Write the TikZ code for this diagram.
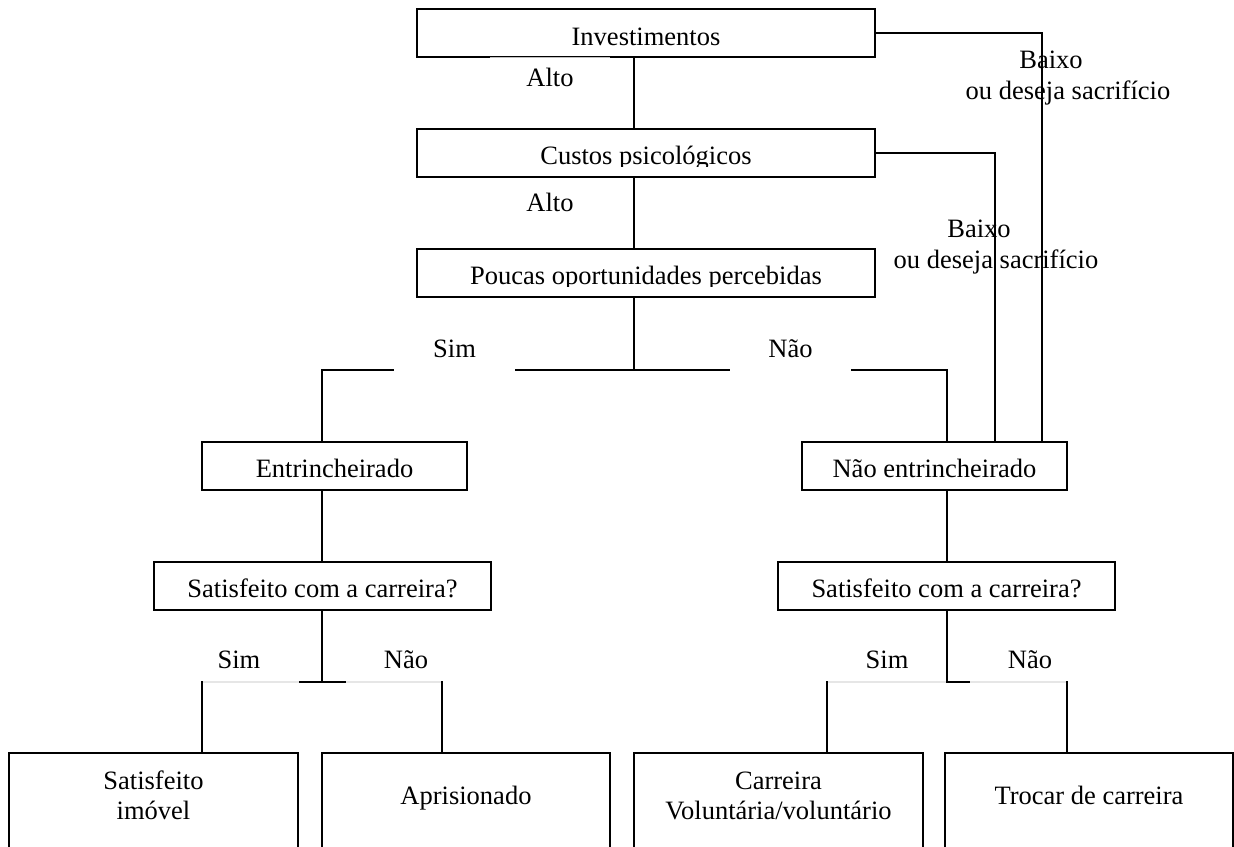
\documentclass[tikz,border=0pt]{standalone}
\usepackage{fontspec}
\setmainfont{Liberation Serif}
\begin{document}
\begin{tikzpicture}[x=1pt,y=-1pt,
  box/.style={draw, line width=2pt, inner sep=0pt, minimum height=48pt},
  leaf/.style={draw, line width=2pt, inner sep=0pt, minimum height=120pt},
  wire/.style={line width=1.6pt},
  txt/.style={font=\fontsize{26.5}{30}\selectfont, inner sep=0pt, anchor=base},
  gaplbl/.style={txt, fill=white, minimum width=121pt, text height=22pt, text depth=15pt},
  veil/.style={fill=white, fill opacity=0.9},
]
\useasboundingbox (0,0) rectangle (1234,846);

% frames of the boxes
\node[box, minimum width=458pt] (inv) at (646,33) {};
\node[box, minimum width=458pt] (cus) at (646,153) {};
\node[box, minimum width=458pt] (pou) at (646,273) {};
\node[box, minimum width=265pt] (ent) at (334.5,466) {};
\node[box, minimum width=265pt] (ne)  at (934.5,466) {};
\node[box, minimum width=337pt] (sl)  at (322.5,586) {};
\node[box, minimum width=337pt] (sr)  at (946.5,586) {};
\node[leaf, minimum width=289pt] (b1) at (153.5,813) {};
\node[leaf, minimum width=288pt] (b2) at (466,813) {};
\node[leaf, minimum width=289pt] (b3) at (778.5,813) {};
\node[leaf, minimum width=288pt] (b4) at (1089,813) {};

% box texts
\node[txt] (tinv) at (646,45) {Investimentos};
\begin{scope}
  \clip (420,131) rectangle (872,166);
  \node[txt] (tcus) at (646,164) {Custos psicológicos};
\end{scope}
\begin{scope}
  \clip (420,251) rectangle (872,286.5);
  \node[txt] (tpou) at (646,284) {Poucas oportunidades percebidas};
\end{scope}
\node[txt] (tent) at (334.5,477) {Entrincheirado};
\node[txt] (tne)  at (934.5,477) {Não entrincheirado};
\node[txt] (tsl)  at (322.5,597) {Satisfeito com a carreira?};
\node[txt] (tsr)  at (946.5,597) {Satisfeito com a carreira?};
\node[txt] (tb1a) at (153.5,789) {Satisfeito};
\node[txt] (tb1b) at (153.5,819) {imóvel};
\node[txt] (tb2)  at (466,804) {Aprisionado};
\node[txt] (tb3a) at (778.5,789) {Carreira};
\node[txt] (tb3b) at (778.5,819) {Voluntária/voluntário};
\node[txt] (tb4)  at (1089,804) {Trocar de carreira};

% branch labels on the right
\node[txt] (bx1) at (1051,68) {Baixo};
\node[txt] (ds1) at (1068,99) {ou deseja sacrifício};
\node[txt] (bx2) at (979,237) {Baixo};
\node[txt] (ds2) at (996,268) {ou deseja sacrifício};
\node[txt] (alto2) at (550,211) {Alto};

% guide positions of the connectors
\coordinate (cx)  at (634,0);
\coordinate (lx)  at (322,0);
\coordinate (rx)  at (947,0);
\coordinate (r1)  at (1042,0);
\coordinate (r2)  at (995,0);
\coordinate (sp)  at (634,370);
\coordinate (jl)  at (322,682);
\coordinate (jr)  at (947,682);
\coordinate (l1)  at (202,0);
\coordinate (l2)  at (442,0);
\coordinate (l3)  at (827,0);
\coordinate (l4)  at (1067,0);

% connectors
\draw[wire] (inv.south -| cx) -- (cus.north -| cx);
\draw[wire] (cus.south -| cx) -- (pou.north -| cx);
\draw[wire] (pou.south -| cx) -- (sp);
\draw[wire] (ent.north -| lx) |- (sp) -| (ne.north -| rx);
\draw[wire] (inv.east) -| (ne.north -| r1);
\draw[wire] (cus.east) -| (ne.north -| r2);
\draw[wire] (ent.south -| lx) -- (sl.north -| lx);
\draw[wire] (ne.south -| rx) -- (sr.north -| rx);
\draw[wire] (sl.south -| lx) -- (jl);
\draw[wire] (sr.south -| jr) -- (jr);
\draw[wire] (b1.north -| l1) |- (jl) -| (b2.north -| l2);
\draw[wire] (b3.north -| l3) |- (jr) -| (b4.north -| l4);

% label backgrounds that hide parts of the lines
\node[txt, veil, fill opacity=0.75, text opacity=1, minimum width=120pt, text height=29pt, text depth=8pt] (alto1) at (550,86) {Alto};
\node[gaplbl] (sim1) at (454.5,357) {Sim};
\node[gaplbl] (nao1) at (790.5,357) {Não};
\fill[veil] (203,645) rectangle (299,683.5);
\fill[veil] (346,645) rectangle (441,683.5);
\fill[veil] (828,645) rectangle (946,683.5);
\fill[veil] (970,645) rectangle (1066,683.5);
\node[txt] (sim2) at (239,668) {Sim};
\node[txt] (nao2) at (406,668) {Não};
\node[txt] (sim3) at (887,668) {Sim};
\node[txt] (nao3) at (1030,668) {Não};
\end{tikzpicture}
\end{document}
